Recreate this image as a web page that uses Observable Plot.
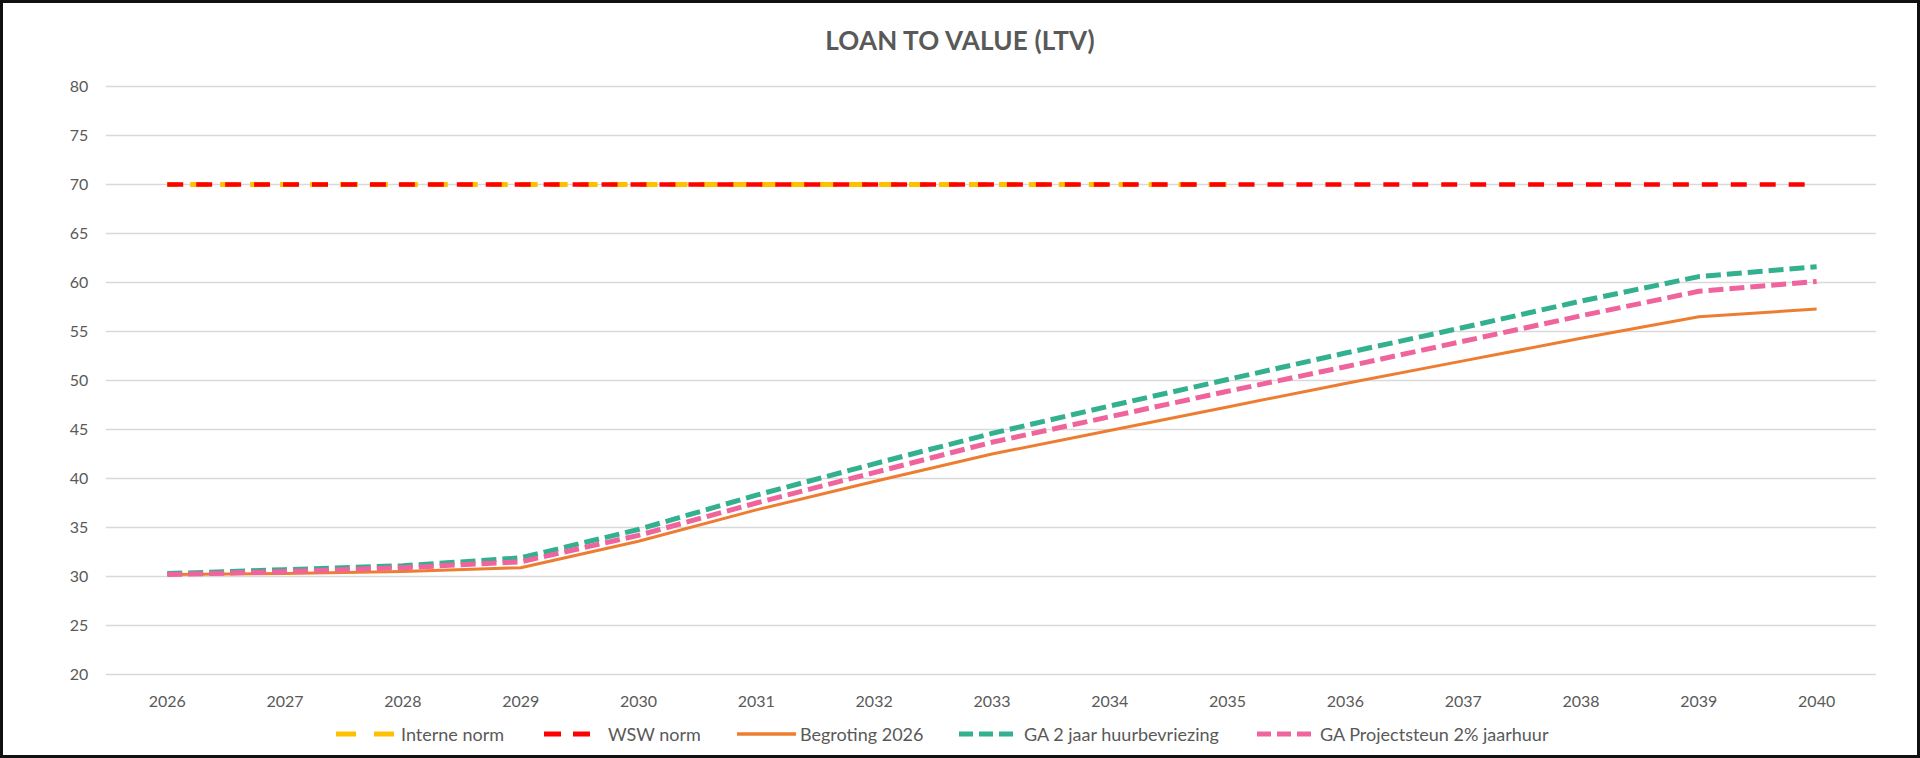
<!DOCTYPE html>
<html>
<head>
<meta charset="utf-8">
<script src="https://cdn.jsdelivr.net/npm/d3@7"></script>
<script src="https://cdn.jsdelivr.net/npm/@observablehq/plot@0.6"></script>
<style>
  html, body { margin: 0; padding: 0; background: #fff; }
  #frame { position: relative; width: 1920px; height: 758px; box-sizing: border-box; border: 3px solid #111; background: #fff; overflow: hidden; font-family: Lato, "Open Sans", sans-serif; }
  #title { position: absolute; left: 0; right: 0; top: 21px; text-align: center; font-weight: bold; font-size: 26px; color: #595959; letter-spacing: 0.2px; }
  #chart { position: absolute; left: -3px; top: 54px; }
  #legend { position: absolute; left: -3px; top: 720px; width: 1920px; height: 22px; font-size: 18px; color: #595959; }
  .sw { position: absolute; top: 6px; }
  .lbl { position: absolute; top: 0; line-height: 22px; white-space: nowrap; }
</style>
</head>
<body>
<div id="frame">
  <div id="title">LOAN TO VALUE (LTV)</div>
  <div id="chart"></div>
  <div id="legend"></div>
</div>
<script>
const years = [2026, 2027, 2028, 2029, 2030, 2031, 2032, 2033, 2034, 2035, 2036, 2037, 2038, 2039, 2040];
const yTicks = [20, 25, 30, 35, 40, 45, 50, 55, 60, 65, 70, 75, 80];
const seriesNames = ["Interne norm", "WSW norm", "Begroting 2026", "GA 2 jaar huurbevriezing", "GA Projectsteun 2% jaarhuur"];
const interneYears = [2026, 2027, 2028, 2029, 2030, 2031, 2032, 2033, 2034, 2035];
const interneNorm = [70, 70, 70, 70, 70, 70, 70, 70, 70, 70];
const wswNorm = [70, 70, 70, 70, 70, 70, 70, 70, 70, 70, 70, 70, 70, 70, 70];
const begroting2026 = [30.2, 30.3, 30.5, 30.9, 33.6, 36.8, 39.7, 42.5, 44.9, 47.3, 49.7, 52.0, 54.3, 56.5, 57.3];
const gaHuurbevriezing = [30.3, 30.7, 31.1, 31.9, 34.8, 38.3, 41.5, 44.6, 47.4, 50.1, 52.8, 55.4, 58.1, 60.6, 61.6];
const gaProjectsteun = [30.2, 30.5, 30.9, 31.5, 34.2, 37.5, 40.6, 43.7, 46.3, 48.9, 51.4, 54.0, 56.6, 59.1, 60.1];

const colors = ["#FFC000", "#FF0000", "#ED7D31", "#33B08F", "#F0649E"];
const styles = [
  {dash: "18,12", width: 5, offset: 7},
  {dash: "16,13", width: 4.5, offset: 0},
  {dash: null, width: 3, offset: 0},
  {dash: "15,6", width: 5, offset: 0},
  {dash: "15,6", width: 5, offset: 0}
];

const tables = [
  interneYears.map((y, i) => ({year: y, value: interneNorm[i]})),
  years.map((y, i) => ({year: y, value: wswNorm[i]})),
  years.map((y, i) => ({year: y, value: begroting2026[i]})),
  years.map((y, i) => ({year: y, value: gaHuurbevriezing[i]})),
  years.map((y, i) => ({year: y, value: gaProjectsteun[i]}))
];

const lineMarks = tables.map((t, i) => Plot.line(t, {
  x: "year", y: "value", stroke: colors[i], strokeWidth: styles[i].width,
  strokeDasharray: styles[i].dash || undefined,
  strokeDashoffset: styles[i].offset,
  strokeLinecap: "butt", strokeLinejoin: "round"
}));

const chart = Plot.plot({
  width: 1920,
  height: 663,
  marginLeft: 106,
  marginRight: 41,
  marginTop: 29,
  marginBottom: 45,
  style: {fontFamily: "Lato, 'Open Sans', sans-serif", fontSize: "16px", color: "#595959", background: "transparent"},
  x: {type: "point", domain: years, padding: 0.5, label: null},
  y: {domain: [20, 80], label: null},
  marks: [
    Plot.gridY(yTicks, {stroke: "#d9d9d9", strokeOpacity: 1, strokeWidth: 1.5}),
    Plot.axisY(yTicks, {tickSize: 0, tickPadding: 18, label: null, fontSize: 16}),
    Plot.axisX(years, {tickSize: 0, tickPadding: 21, label: null, fontSize: 16, tickFormat: d => String(d)}),
    ...lineMarks
  ]
});
document.getElementById("chart").appendChild(chart);

const legend = document.getElementById("legend");
const swLeft = [336, 544, 737, 959, 1257];
const swWidth = [58, 47, 59, 56, 56];
const txtLeft = [401, 608, 800, 1024, 1320];
const swatchDash = ["20,18", "17,12", null, "14,6", "14,6"];
seriesNames.forEach((name, i) => {
  const w = swWidth[i];
  const svg = d3.create("svg").attr("class", "sw").attr("width", w).attr("height", 10)
    .style("left", swLeft[i] + "px");
  svg.append("line").attr("x1", 0).attr("x2", w).attr("y1", 5).attr("y2", 5)
    .attr("stroke", colors[i]).attr("stroke-width", i === 2 ? 3.5 : 5)
    .attr("stroke-dasharray", swatchDash[i]);
  legend.appendChild(svg.node());
  const span = document.createElement("span");
  span.className = "lbl";
  span.style.left = txtLeft[i] + "px";
  span.textContent = name;
  legend.appendChild(span);
});
</script>
</body>
</html>
